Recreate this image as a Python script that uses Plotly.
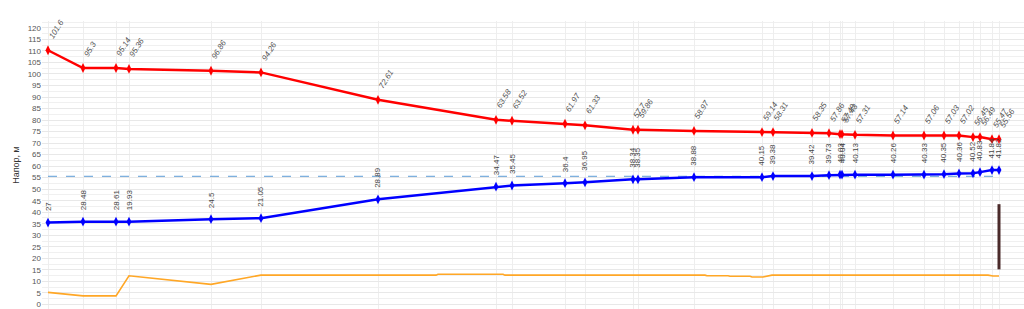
import plotly.graph_objects as go

# distances of the nodes (m)
dist = [0, 350, 680, 810, 1630, 2130, 3300, 4480, 4640, 5170, 5370, 5850, 5900, 6460,
        7140, 7250, 7640, 7810, 7920, 7940, 8070, 8450, 8760, 8960, 9110, 9250, 9320, 9440, 9510]

# red line: piezometric head
head = [110.3, 102.6, 102.6, 102.2, 101.4, 100.7, 88.8, 80.1, 79.7, 78.4, 77.7, 75.8, 75.8, 75.3,
        74.8, 74.8, 74.4, 74.3, 73.9, 73.9, 73.6, 73.3, 73.3, 73.3, 73.3, 72.6, 72.6, 71.7, 71.7]
head_labels = ["101.6", "95.3", "95.14", "95.36", "96.86", "94.26", "72.61", "63.58", "63.52", "61.97",
               "61.33", "57.7", "59.86", "58.97", "59.14", "58.31", "58.35", "57.86", "57.49", "57.43",
               "57.31", "57.14", "57.06", "57.03", "57.02", "56.45", "56.49", "55.47", "55.56"]

# blue line
blue = [35.5, 35.9, 35.9, 35.9, 37.0, 37.4, 45.6, 51.1, 51.6, 52.6, 53.0, 54.3, 54.3, 55.2,
        55.2, 55.7, 55.7, 56.1, 56.3, 56.3, 56.3, 56.3, 56.3, 56.5, 56.8, 56.9, 57.4, 58.3, 58.3]
blue_labels = ["27", "28.48", "28.61", "19.93", "24.5", "21.05", "28.89", "34.47", "35.45", "36.4",
               "36.95", "38.34", "38.35", "38.88", "40.15", "39.38", "39.42", "39.73", "40.03", "40.04",
               "40.13", "40.26", "40.33", "40.35", "40.36", "40.52", "40.83", "41.84", "41.82"]

# orange ground line
ground_x = [0, 350, 680, 810, 1630, 2130, 3880, 3900, 4550, 4570, 6570, 6590, 6800, 6820, 7020,
            7040, 7150, 7200, 7240, 9400, 9450, 9510]
ground_y = [5.2, 3.7, 3.7, 12.4, 8.7, 12.7, 12.7, 13.1, 13.1, 12.7, 12.7, 12.4, 12.4, 12.2, 12.2,
            11.9, 11.9, 12.4, 12.7, 12.7, 12.3, 12.3]

ref_level = 55.6
bar_x = 9510
bar_y = [15.2, 43.5]

fig = go.Figure()

fig.add_trace(go.Scatter(x=ground_x, y=ground_y, mode="lines",
                         line=dict(color="#ffa726", width=1.6), hoverinfo="skip"))
fig.add_trace(go.Scatter(x=[dist[0], dist[-1]], y=[ref_level, ref_level], mode="lines",
                         line=dict(color="#5b9bd5", width=1, dash="dash"), hoverinfo="skip"))
fig.add_trace(go.Scatter(x=dist, y=head, mode="lines+markers",
                         line=dict(color="#ff0000", width=2.5),
                         marker=dict(symbol="diamond-tall", size=7, color="#ff0000")))
fig.add_trace(go.Scatter(x=dist, y=blue, mode="lines+markers",
                         line=dict(color="#0000ff", width=2.5),
                         marker=dict(symbol="diamond-tall", size=7, color="#0000ff")))
fig.add_trace(go.Scatter(x=[bar_x, bar_x], y=bar_y, mode="lines",
                         line=dict(color="#4a2a2a", width=3), hoverinfo="skip"))

for xv, yv, t in zip(dist, head, head_labels):
    fig.add_annotation(x=xv, y=yv, text="<i>" + t + "</i>", showarrow=False, textangle=-58,
                       xanchor="left", yanchor="bottom", xshift=-4, yshift=7,
                       font=dict(family="Liberation Sans", size=8, color="#555555"))
for xv, yv, t in zip(dist, blue, blue_labels):
    fig.add_annotation(x=xv, y=yv, text=t, showarrow=False, textangle=-90,
                       xanchor="center", yanchor="bottom", yshift=9,
                       font=dict(family="Liberation Sans", size=8, color="#444444"))

fig.update_layout(
    width=1024, height=309,
    margin=dict(l=42, r=0, t=21, b=0),
    plot_bgcolor="white", paper_bgcolor="white",
    showlegend=False,
    font=dict(family="Liberation Sans", size=8, color="#555555"),
    xaxis=dict(range=[-60, 9760], tickvals=dist, showticklabels=False, ticks="",
               showgrid=True, gridcolor="#eeeeee", gridwidth=1, zeroline=False, showline=False),
    yaxis=dict(range=[-2, 123], tick0=0, dtick=5, showgrid=True, gridcolor="#e8e8e8",
               minor=dict(dtick=2.5, showgrid=True, gridcolor="#f0f0f0"),
               zeroline=False, showline=False, ticks="", ticklabeloverflow="allow",
               tickfont=dict(size=8, color="#555555"),
               title=dict(text="Напор, м", standoff=6, font=dict(size=9, color="#333333"))),
)

fig.write_html("out.html")
